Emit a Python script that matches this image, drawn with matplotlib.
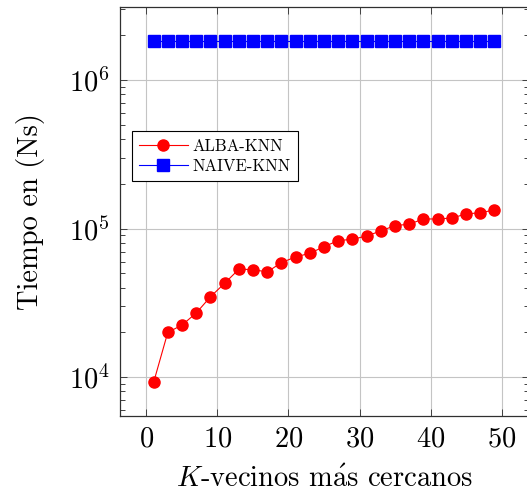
import matplotlib
matplotlib.use("Agg")
import matplotlib.pyplot as plt
from matplotlib.ticker import LogLocator, FixedLocator, NullFormatter
import numpy as np

plt.rcParams['font.family'] = ['cmr10', 'DejaVu Serif']
plt.rcParams['mathtext.fontset'] = 'cm'
plt.rcParams['axes.formatter.use_mathtext'] = True

k_values = [1, 3, 5, 7, 9, 11, 13, 15, 17, 19, 21, 23, 25, 27, 29, 31, 33, 35,
            37, 39, 41, 43, 45, 47, 49]
alba_knn = [9200, 20000, 22400, 27000, 34700, 42800, 53200, 53000, 51000, 59000,
            64400, 68200, 75500, 83000, 84700, 89100, 96400, 104800, 107000,
            116100, 116000, 117800, 125300, 128000, 133300]
naive_knn = [1830000] * 25
x_ticks = [0, 10, 20, 30, 40, 50]
series_labels = ["ALBA-KNN", "NAIVE-KNN"]

W, H = 527, 493
fig = plt.figure(figsize=(W / 100, H / 100), dpi=100)
left, right, top, bottom = 119.5, 528.5, 7, 416
ax = fig.add_axes([left / W, 1 - bottom / H, (right - left) / W, (bottom - top) / H])

ax.plot(k_values, alba_knn, color='#ff0000', lw=0.8, marker='o', markersize=8,
        label=series_labels[0], zorder=3)
ax.plot(k_values, naive_knn, color='#0000ff', lw=0.8, marker='s', markersize=8,
        label=series_labels[1], zorder=3)

ax.set_yscale('log')
ax.set_xlim(-3.8, 53.8)
ax.set_ylim(10 ** 3.738, 10 ** 6.492)
ax.xaxis.set_major_locator(FixedLocator(x_ticks))
ax.yaxis.set_major_locator(LogLocator(base=10, numticks=10))
ax.yaxis.set_minor_locator(LogLocator(base=10, subs=np.arange(2, 10), numticks=20))
ax.yaxis.set_minor_formatter(NullFormatter())

ax.grid(True, which='major', color='#c4c4c4', lw=0.8, zorder=0)
ax.set_axisbelow(True)
ax.tick_params(which='both', direction='in', top=True, right=True,
               labelsize=20.5, color='#404040')
ax.tick_params(which='major', length=5, width=0.7, pad=7)
ax.tick_params(which='minor', length=3.5, width=0.7)
for s in ax.spines.values():
    s.set_linewidth(0.9)
    s.set_color('#303030')

ax.set_xlabel(r"$K$-vecinos m$\mathrm{\acute{a}}$s cercanos", fontsize=20.5, labelpad=10)
ax.set_ylabel("Tiempo en (Ns)", fontsize=20.5, labelpad=17)

leg = ax.legend(loc='upper left', bbox_to_anchor=(0.0298, 0.6975), borderaxespad=0,
                fontsize=12, frameon=True, fancybox=False, framealpha=1,
                edgecolor='black', handlelength=2.9, handletextpad=0.3,
                labelspacing=0.3, borderpad=0.45)
leg.get_frame().set_linewidth(0.8)

fig.savefig("out.png", dpi=100)
